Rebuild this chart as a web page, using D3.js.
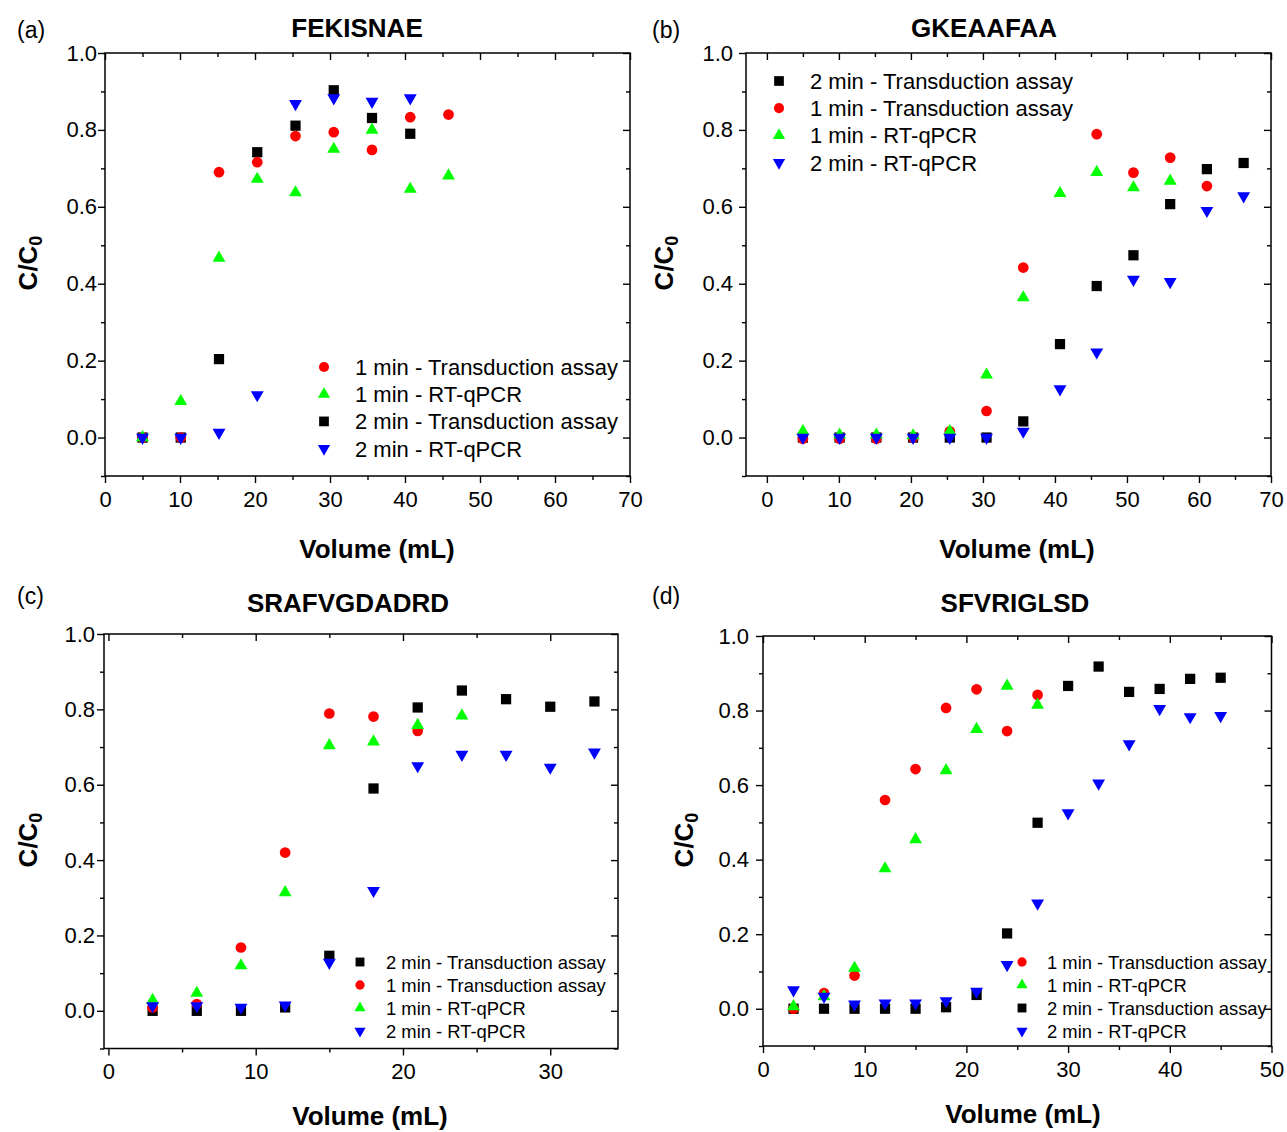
<!DOCTYPE html>
<html>
<head>
<meta charset="utf-8">
<script src="https://cdn.jsdelivr.net/npm/d3@7"></script>
<style>
  body { margin: 0; background: #fff; }
  svg { display: block; }
  text { font-family: "Liberation Sans", Arial, sans-serif; fill: #000; }
</style>
</head>
<body>
<div id="chart"></div>
<script>
// ---- data (C/C0 vs volume, mL) ----
const volA = [5, 10.1, 15.2, 20.3, 25.4, 30.5, 35.6, 40.7, 45.8];
const aTrans1 = [0, 0, 0.69, 0.716, 0.784, 0.794, 0.748, 0.833, 0.84];
const aPcr1 = [0, 0.094, 0.467, 0.672, 0.637, 0.75, 0.8, 0.646, 0.681];
const aTrans2 = [0, 0, 0.204, 0.742, 0.811, 0.903, 0.831, 0.79, null];
const aPcr2 = [0, 0, 0.013, 0.111, 0.868, 0.883, 0.874, 0.883, null];

const volB = [5, 10.1, 15.2, 20.3, 25.4, 30.5, 35.6, 40.7, 45.8, 50.9, 56, 61.1, 66.2];
const bTrans2 = [0, 0, 0, 0, 0, 0, 0.042, 0.243, 0.394, 0.474, 0.607, 0.698, 0.714];
const bTrans1 = [-0.003, -0.003, -0.003, 0, 0.016, 0.069, 0.442, null, 0.789, 0.689, 0.728, 0.654, null];
const bPcr1 = [0.016, 0.007, 0.007, 0.005, 0.016, 0.163, 0.364, 0.635, 0.69, 0.65, 0.667, null, null];
const bPcr2 = [0, 0, 0, 0, 0, 0, 0.016, 0.126, 0.222, 0.411, 0.405, 0.59, 0.628];

const volC = [3, 6, 9, 12, 15, 18, 21, 24, 27, 30, 33];
const cTrans2 = [0, 0, 0, 0.009, 0.146, 0.59, 0.805, 0.85, 0.827, 0.807, 0.821];
const cTrans1 = [0.009, 0.018, 0.168, 0.42, 0.789, 0.781, 0.743, null, null, null, null];
const cPcr1 = [0.028, 0.047, 0.12, 0.314, 0.704, 0.714, 0.758, 0.783, null, null, null];
const cPcr2 = [0.013, 0.013, 0.009, 0.015, 0.128, 0.319, 0.65, 0.68, 0.68, 0.646, 0.686];

const volD = [3, 6, 9, 12, 15, 18, 21, 24, 27, 30, 33, 36, 39, 42, 45];
const dTrans1 = [0, 0.042, 0.089, 0.56, 0.643, 0.807, 0.857, 0.745, 0.842, null, null, null, null, null, null];
const dPcr1 = [0.006, 0.033, 0.109, 0.376, 0.454, 0.639, 0.75, 0.866, 0.815, null, null, null, null, null, null];
const dTrans2 = [0, 0, 0, 0, 0, 0.004, 0.037, 0.202, 0.499, 0.866, 0.918, 0.85, 0.858, 0.885, 0.888];
const dPcr2 = [0.05, 0.033, 0.012, 0.015, 0.015, 0.021, 0.046, 0.118, 0.283, 0.525, 0.605, 0.71, 0.805, 0.783, 0.786];

const seriesNames = {
  trans1: "1 min - Transduction assay",
  pcr1: "1 min - RT-qPCR",
  trans2: "2 min - Transduction assay",
  pcr2: "2 min - RT-qPCR"
};
const yTicks = [0, 0.2, 0.4, 0.6, 0.8, 1.0];

// ---- marker styles ----
const markers = {
  trans2: { color: "#000000", type: d3.symbolSquare, size: 105, rot: 0 },
  trans1: { color: "#ff0000", type: d3.symbolCircle, size: 90, rot: 0 },
  pcr1: { color: "#00ff00", type: d3.symbolTriangle, size: 72, rot: 0 },
  pcr2: { color: "#0000ff", type: d3.symbolTriangle, size: 72, rot: 180 }
};
const drawOrder = ["trans2", "trans1", "pcr1", "pcr2"];

const panels = [
  { tag: "(a)", title: "FEKISNAE", vol: volA,
    data: { trans1: aTrans1, pcr1: aPcr1, trans2: aTrans2, pcr2: aPcr2 },
    xr: [105, 630], yr: [476, 53], xd: [0, 70], xMajor: 10, xMax: 70,
    tagPos: [17, 38], titlePos: [357, 37], yTitle: [37, 263], xTitle: [377, 558], yPad: 0,
    legend: { order: ["trans1", "pcr1", "trans2", "pcr2"], x: 324, y: 367, dy: 27.2, tx: 355, fs: 22, scale: 0.9 } },
  { tag: "(b)", title: "GKEAAFAA", vol: volB,
    data: { trans2: bTrans2, trans1: bTrans1, pcr1: bPcr1, pcr2: bPcr2 },
    xr: [746, 1271], yr: [476, 53], xd: [-2.9, 70], xMajor: 10, xMax: 70,
    tagPos: [652, 38], titlePos: [984, 37], yTitle: [673, 263], xTitle: [1017, 558], yPad: 5,
    legend: { order: ["trans2", "trans1", "pcr1", "pcr2"], x: 779, y: 81, dy: 27.2, tx: 810, fs: 22, scale: 0.9 } },
  { tag: "(c)", title: "SRAFVGDADRD", vol: volC,
    data: { trans2: cTrans2, trans1: cTrans1, pcr1: cPcr1, pcr2: cPcr2 },
    xr: [104, 618], yr: [1048.5, 634], xd: [-0.3, 34.6], xMajor: 10, xMax: 34.6,
    tagPos: [17, 604], titlePos: [348, 612], yTitle: [37, 840], xTitle: [370, 1125], yPad: 1,
    legend: { order: ["trans2", "trans1", "pcr1", "pcr2"], x: 360, y: 962, dy: 23, tx: 386, fs: 18.4, scale: 0.75 } },
  { tag: "(d)", title: "SFVRIGLSD", vol: volD,
    data: { trans1: dTrans1, pcr1: dPcr1, trans2: dTrans2, pcr2: dPcr2 },
    xr: [763, 1271.5], yr: [1046, 636], xd: [0, 50], xMajor: 10, xMax: 50,
    tagPos: [652, 604], titlePos: [1015, 612], yTitle: [693, 840], xTitle: [1023, 1123], yPad: 6,
    legend: { order: ["trans1", "pcr1", "trans2", "pcr2"], x: 1022, y: 962, dy: 23, tx: 1047, fs: 18.4, scale: 0.75 } }
];

const W = 1287, H = 1132;
const svg = d3.select("#chart").append("svg")
  .attr("width", W)
  .attr("height", H);

const symbolPath = (key, s) => d3.symbol().type(markers[key].type).size(markers[key].size * (s || 1))();

panels.forEach(p => {
  const x = d3.scaleLinear().domain(p.xd).range(p.xr);
  const y = d3.scaleLinear().domain([-0.1, 1.0]).range(p.yr);
  const g = svg.append("g");

  const xMajorTicks = d3.range(0, p.xMax + 0.001, p.xMajor);
  const xMinorTicks = d3.range(0, p.xMax + 0.001, p.xMajor / 2).filter(v => v % p.xMajor !== 0);
  const yMinorTicks = d3.range(-0.1, 1.0, 0.2).map(v => +v.toFixed(1));

  // bottom axis (outward ticks, labels)
  g.append("g")
    .attr("transform", "translate(0," + p.yr[0] + ")")
    .call(d3.axisBottom(x).tickValues(xMajorTicks).tickSize(7).tickPadding(8).tickFormat(d3.format("d")))
    .call(a => a.select(".domain").remove());
  g.append("g")
    .attr("transform", "translate(0," + p.yr[0] + ")")
    .call(d3.axisBottom(x).tickValues(xMinorTicks).tickSize(4).tickFormat(""))
    .call(a => a.select(".domain").remove());
  // top axis (inward ticks)
  g.append("g")
    .attr("transform", "translate(0," + p.yr[1] + ")")
    .call(d3.axisTop(x).tickValues(xMajorTicks).tickSize(-7).tickFormat(""))
    .call(a => a.select(".domain").remove());
  g.append("g")
    .attr("transform", "translate(0," + p.yr[1] + ")")
    .call(d3.axisTop(x).tickValues(xMinorTicks).tickSize(-4).tickFormat(""))
    .call(a => a.select(".domain").remove());

  // left axis
  g.append("g")
    .attr("transform", "translate(" + p.xr[0] + ",0)")
    .call(d3.axisLeft(y).tickValues(yTicks).tickSize(7).tickPadding(p.yPad + 1).tickFormat(d3.format(".1f")))
    .call(a => a.select(".domain").remove());
  g.append("g")
    .attr("transform", "translate(" + p.xr[0] + ",0)")
    .call(d3.axisLeft(y).tickValues(yMinorTicks).tickSize(4).tickFormat(""))
    .call(a => a.select(".domain").remove());
  // right axis (inward)
  g.append("g")
    .attr("transform", "translate(" + p.xr[1] + ",0)")
    .call(d3.axisRight(y).tickValues(yTicks).tickSize(-7).tickFormat(""))
    .call(a => a.select(".domain").remove());
  g.append("g")
    .attr("transform", "translate(" + p.xr[1] + ",0)")
    .call(d3.axisRight(y).tickValues(yMinorTicks).tickSize(-4).tickFormat(""))
    .call(a => a.select(".domain").remove());

  g.selectAll(".tick line").attr("stroke", "#000").attr("stroke-width", 1.4);
  g.selectAll(".tick text").attr("font-size", 22).attr("fill", "#111");

  // frame
  g.append("rect")
    .attr("x", p.xr[0])
    .attr("y", p.yr[1])
    .attr("width", p.xr[1] - p.xr[0])
    .attr("height", p.yr[0] - p.yr[1])
    .attr("fill", "none")
    .attr("stroke", "#000")
    .attr("stroke-width", 1.5);

  // points
  drawOrder.forEach(key => {
    const vals = p.data[key];
    const pts = p.vol.map((v, i) => ({ v: v, c: vals[i] })).filter(d => d.c !== null);
    g.selectAll(null)
      .data(pts)
      .enter()
      .append("path")
      .attr("d", symbolPath(key))
      .attr("transform", d => "translate(" + x(d.v) + "," + y(d.c) + ") rotate(" + markers[key].rot + ")")
      .attr("fill", markers[key].color);
  });

  // legend
  const lg = g.append("g");
  p.legend.order.forEach((key, i) => {
    const ly = p.legend.y + i * p.legend.dy;
    lg.append("path")
      .attr("d", symbolPath(key, p.legend.scale))
      .attr("transform", "translate(" + p.legend.x + "," + ly + ") rotate(" + markers[key].rot + ")")
      .attr("fill", markers[key].color);
    lg.append("text")
      .attr("x", p.legend.tx)
      .attr("y", ly)
      .attr("dy", "0.36em")
      .attr("font-size", p.legend.fs)
      .attr("fill", "#111")
      .text(seriesNames[key]);
  });

  // titles
  g.append("text")
    .attr("x", p.tagPos[0])
    .attr("y", p.tagPos[1])
    .attr("font-size", 23)
    .text(p.tag);
  g.append("text")
    .attr("x", p.titlePos[0])
    .attr("y", p.titlePos[1])
    .attr("text-anchor", "middle")
    .attr("font-size", 26)
    .attr("font-weight", "bold")
    .text(p.title);
  g.append("text")
    .attr("x", p.xTitle[0])
    .attr("y", p.xTitle[1])
    .attr("text-anchor", "middle")
    .attr("font-size", 26)
    .attr("font-weight", "bold")
    .text("Volume (mL)");
  const yt = g.append("text")
    .attr("transform", "translate(" + p.yTitle[0] + "," + p.yTitle[1] + ") rotate(-90)")
    .attr("text-anchor", "middle")
    .attr("font-size", 26)
    .attr("font-weight", "bold");
  yt.append("tspan").text("C/C");
  yt.append("tspan").attr("dy", "0.3em").attr("font-size", 18).text("0");
});
</script>
</body>
</html>
